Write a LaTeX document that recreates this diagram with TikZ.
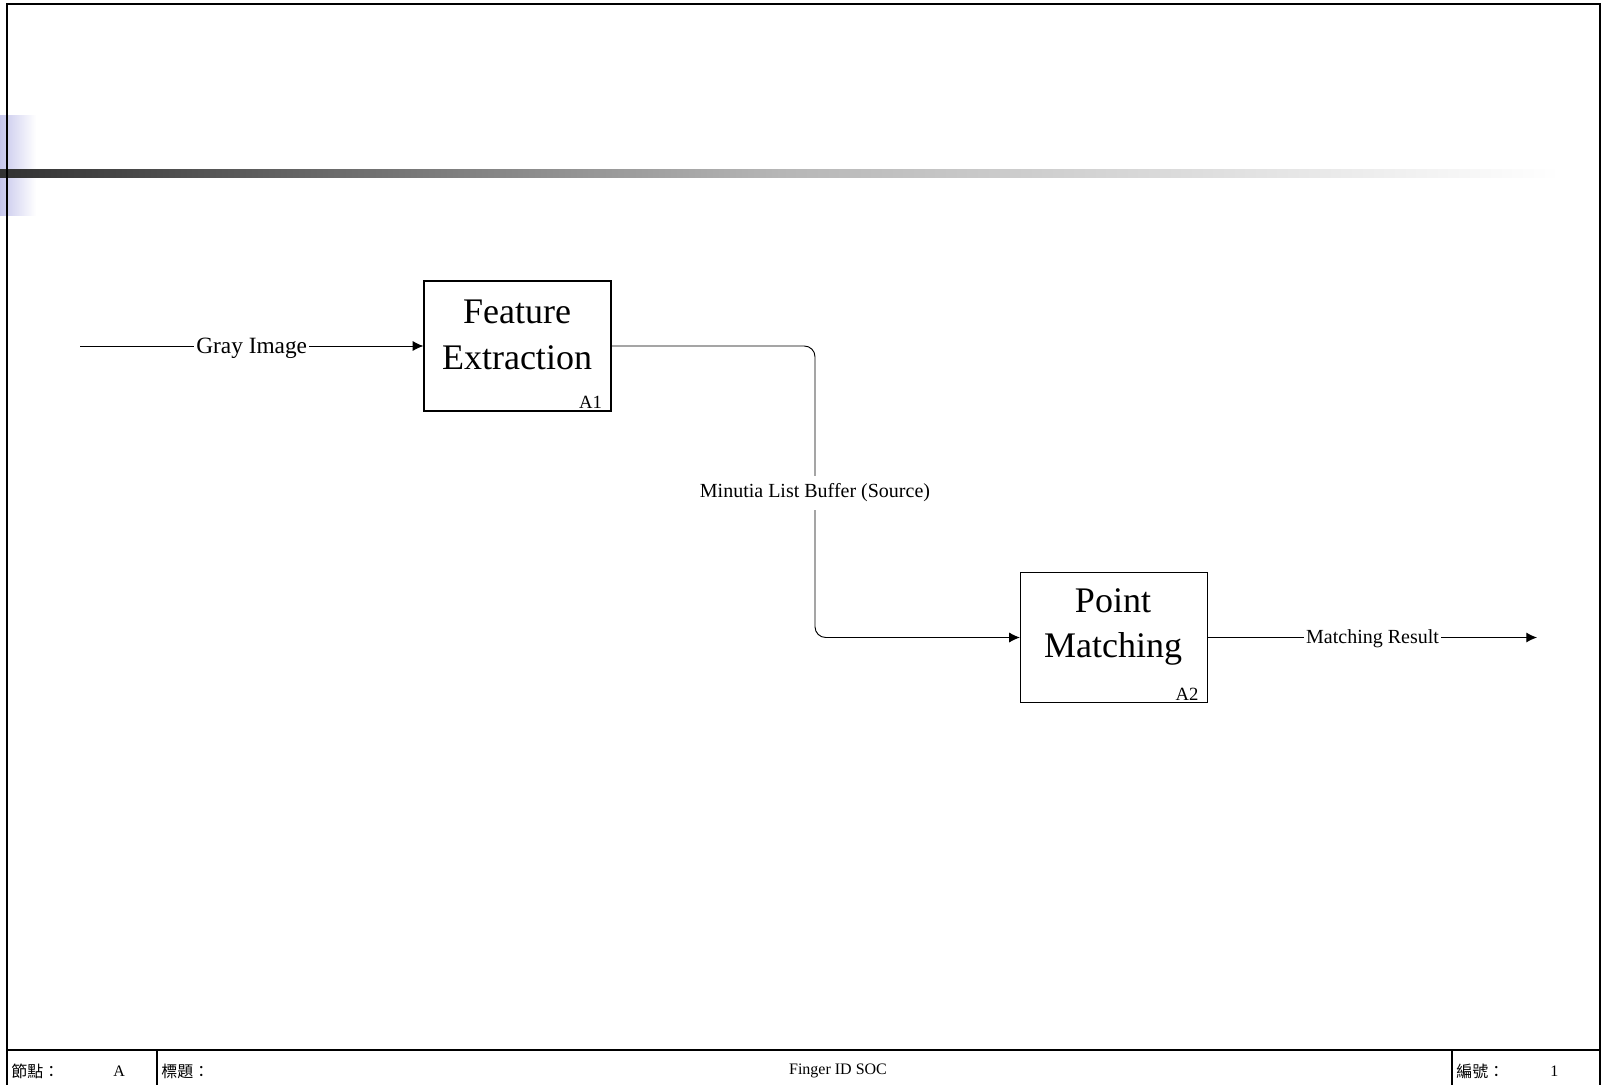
\documentclass[tikz,border=0pt]{standalone}
\usepackage{fontspec}
\setmainfont{Liberation Serif}
\newfontfamily\cjk{Noto Sans CJK TC}
\usetikzlibrary{arrows.meta,positioning}

\definecolor{barlav}{RGB}{198,198,236}
\definecolor{bardark}{RGB}{50,50,50}
\definecolor{barmid}{RGB}{182,182,182}

\newcommand{\boxw}{187}
\newcommand{\boxh}{130}
\newcommand{\actbox}{\node[draw, line width=0.9pt, minimum width=\boxw*0.75pt, minimum height=\boxh*0.75pt, inner sep=0pt]}
\newcommand{\acttext}{\node[align=center, font=\fontsize{27}{34}\selectfont, inner sep=0pt]}
\newcommand{\actid}{\node[font=\fontsize{14}{16}\selectfont, anchor=south east, inner xsep=7pt, inner ysep=2pt]}
\newcommand{\foot}{\node[font=\fontsize{12}{14}\selectfont, anchor=west, inner sep=0pt]}

\tikzset{
    flow/.style={line width=0.7pt, -{Latex[length=8pt, width=7.5pt]}},
    lbl/.style={fill=white, inner xsep=1.5pt, inner ysep=6pt, font=\fontsize{15}{17}\selectfont},
}

\begin{document}
\begin{tikzpicture}[x=0.75pt, y=-0.75pt]
        \useasboundingbox (0,0) rectangle (1607,1085);

        % header bar
        \shade[left color=barlav, right color=white] (0,115) rectangle (36,215);
        \shade[left color=bardark, right color=barmid] (0,169) rectangle (780,177);
        \shade[left color=barmid, right color=white] (780,169) rectangle (1560,177);

        % frame and footer
        \draw[line width=1.2pt] (7,1085) -- (7,4) -- (1600,4) -- (1600,1085);
        \draw[line width=1pt]
            (7,1050) -- (1600,1050)
            (157,1050) -- (157,1085)
            (1452,1050) -- (1452,1085)
            ;
        \foot (n_lbl) at (11,1071) {\cjk 節點：};
        \foot (n_val) at (113,1071) {A};
        \foot (t_lbl) at (161,1071) {\cjk 標題：};
        \node[font=\fontsize{12}{14}\selectfont, inner sep=0pt] (t_val) at (838,1071) {Finger ID SOC};
        \foot (k_lbl) at (1456,1071) {\cjk 編號：};
        \foot (k_val) at (1550,1071) {1};

        % activities
        \actbox (a1) at (517.5,346) {};
        \acttext (a1t) at (517,335) {Feature\\Extraction};
        \actid (a1id) at (a1.south east) {A1};

        \actbox (a2) at (1114,637.5) {};
        \acttext (a2t) at (1113,627) {Point\\Matching};
        \actid (a2id) at (a2.south east) {A2};

        \coordinate (src) at (80,346);
        \coordinate (bend) at (815,346);
        \coordinate (dst) at (1537,637.5);

        \draw[flow]
            (src) -- node[lbl, yshift=-1.5pt, font=\fontsize{17.5}{20}\selectfont] {Gray Image} (a1.west);
        \draw[flow, rounded corners=8]
            (a1.east) -- (bend) |- (a2.west);
        \node[lbl] (buf) at (815,493) {Minutia List Buffer (Source)};
        \draw[flow]
            (a2.east) -- node[lbl, yshift=-1pt] {Matching Result} (dst);
    \end{tikzpicture}
\end{document}
